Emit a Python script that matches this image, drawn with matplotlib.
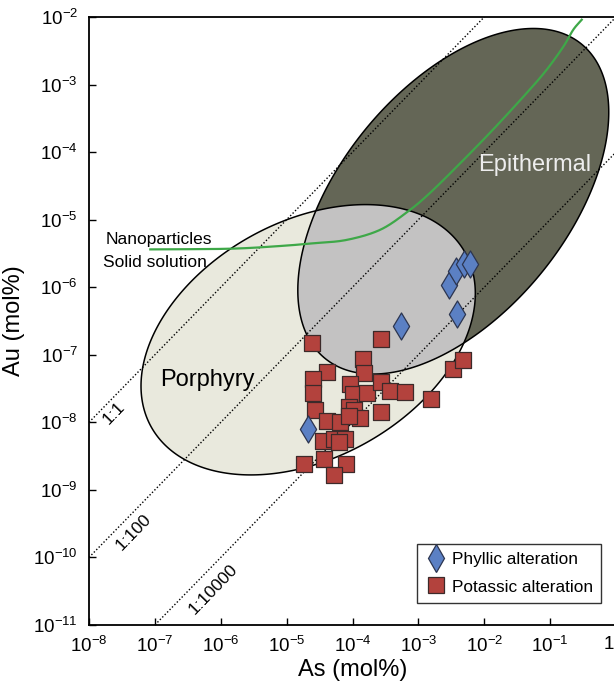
import numpy as np
import matplotlib
matplotlib.use('Agg')
import matplotlib.pyplot as plt
from matplotlib.patches import Polygon
from matplotlib.lines import Line2D
from matplotlib.transforms import ScaledTranslation

plt.rcParams['font.family'] = ['Liberation Sans', 'DejaVu Sans']
plt.rcParams['mathtext.default'] = 'regular'

# sample data, log10 of mol%
phyllic_log_as = [-4.67, -3.26, -2.53, -2.43, -2.30, -2.21, -2.42]
phyllic_log_au = [-8.10, -6.58, -5.96, -5.76, -5.65, -5.65, -6.39]

potassic_log_as = [-4.62, -3.56, -3.84, -3.82, -4.38, -4.60, -4.60, -4.04,
                   -3.99, -3.78, -3.56, -3.43, -3.20, -2.81, -2.48, -2.33,
                   -4.57, -4.06, -3.98, -3.89, -3.57, -4.39, -4.19, -4.05,
                   -4.45, -4.28, -4.12, -4.21, -4.73, -4.44, -4.10, -4.28]
potassic_log_au = [-6.82, -6.77, -7.06, -7.27, -7.26, -7.36, -7.56, -7.43,
                   -7.58, -7.56, -7.40, -7.53, -7.55, -7.66, -7.21, -7.07,
                   -7.82, -7.77, -7.82, -7.94, -7.85, -7.98, -8.00, -7.90,
                   -8.28, -8.24, -8.25, -8.29, -8.61, -8.54, -8.61, -8.78]

# nanoparticle / solid solution boundary
curve_log_as = [-7.07, -5.86, -5.10, -4.60, -4.09, -3.58, -3.16, -2.83,
                -2.37, -1.87, -1.36, -1.06, -0.80, -0.65, -0.52]
curve_log_au = [-5.44, -5.43, -5.39, -5.35, -5.30, -5.15, -4.88, -4.61,
                -4.17, -3.67, -3.13, -2.79, -2.44, -2.19, -2.04]

# Au/As ratio reference lines
ratios = [1, 1e-2, 1e-4]
ratio_labels = ['1:1', '1:100', '1:10000']

# traced outlines of the two fields (log10 As, log10 Au)
porphyry_log_as = [-4.55, -5.05, -5.71, -6.16, -6.62, -6.92, -7.12, -7.19,
                   -7.15, -6.97, -6.62, -6.11, -5.51, -4.85, -4.34, -3.74,
                   -3.23, -2.72, -2.27, -2.17, -2.13, -2.17, -2.37, -2.72,
                   -3.18, -3.84]
porphyry_log_au = [-4.91, -5.03, -5.35, -5.65, -6.04, -6.49, -6.93, -7.33,
                   -7.77, -8.16, -8.51, -8.71, -8.78, -8.71, -8.58, -8.31,
                   -7.87, -7.37, -6.78, -6.44, -6.04, -5.70, -5.35, -5.05,
                   -4.86, -4.76]
epithermal_log_as = [-1.26, -0.70, -0.35, -0.17, -0.12, -0.17, -0.32, -0.90,
                     -1.61, -2.27, -2.72, -3.23, -3.74, -4.24, -4.55, -4.72,
                     -4.82, -4.75, -4.55, -4.19, -3.79, -3.18, -2.57, -1.87]
epithermal_log_au = [-2.17, -2.27, -2.54, -3.03, -3.38, -3.87, -4.41, -5.55,
                     -6.29, -6.78, -7.03, -7.23, -7.27, -7.18, -6.98, -6.63,
                     -5.89, -5.45, -4.86, -4.22, -3.62, -3.03, -2.59, -2.29]


def fit_ellipse(lx, ly, n=400):
    # least squares conic fit in log space, returned as a smooth outline
    x = np.asarray(lx, float)
    y = np.asarray(ly, float)
    mx, my = x.mean(), y.mean()
    u, v = x - mx, y - my
    M = np.column_stack([u * u, u * v, v * v, u, v])
    A, B, C, D, E = np.linalg.lstsq(M, np.ones_like(u), rcond=None)[0]
    uc, vc = np.linalg.solve([[2 * A, B], [B, 2 * C]], [-D, -E])
    F = A * uc * uc + B * uc * vc + C * vc * vc + D * uc + E * vc - 1
    w, V = np.linalg.eigh([[A, B / 2], [B / 2, C]])
    axes_len = np.sqrt(-F / w)
    t = np.linspace(0, 2 * np.pi, n)
    pts = V @ np.vstack([axes_len[0] * np.cos(t), axes_len[1] * np.sin(t)])
    return np.column_stack([10 ** (pts[0] + uc + mx), 10 ** (pts[1] + vc + my)])


def smooth_curve(lx, ly, n=24):
    # Catmull-Rom spline through the traced curve points, in log space
    P = np.column_stack([lx, ly]).astype(float)
    pts = np.vstack([2 * P[0] - P[1], P, 2 * P[-1] - P[-2]])
    t = np.linspace(0, 1, n, endpoint=False)[:, None]
    out = []
    for i in range(1, len(pts) - 2):
        p0, p1, p2, p3 = pts[i - 1:i + 3]
        out.append(0.5 * (2 * p1 + (p2 - p0) * t
                          + (2 * p0 - 5 * p1 + 4 * p2 - p3) * t ** 2
                          + (3 * p1 - p0 - 3 * p2 + p3) * t ** 3))
    out.append(pts[-2][None])
    return 10 ** np.vstack(out)


fig = plt.figure(figsize=(6.14, 6.86), dpi=100)
ax = fig.add_axes([89 / 614, 1 - 625 / 686, 527 / 614, 608 / 686])
ax.set_xscale('log')
ax.set_yscale('log')
ax.set_xlim(1e-8, 1)
ax.set_ylim(1e-11, 1e-2)

por = fit_ellipse(porphyry_log_as, porphyry_log_au)
epi = fit_ellipse(epithermal_log_as, epithermal_log_au)

ax.add_patch(Polygon(por, closed=True, facecolor='#e9e9dd', edgecolor='none', zorder=1))
p2 = Polygon(epi, closed=True, facecolor='#646656', edgecolor='none', zorder=1.1)
ax.add_patch(p2)
p3 = Polygon(por, closed=True, facecolor='#c3c2c2', edgecolor='none', zorder=1.2)
ax.add_patch(p3)
p3.set_clip_path(p2)
ax.add_patch(Polygon(por, closed=True, facecolor='none', edgecolor='black', lw=1.1, zorder=1.3))
ax.add_patch(Polygon(epi, closed=True, facecolor='none', edgecolor='black', lw=1.1, zorder=1.3))

xs = np.logspace(-8, 0, 50)
for r in ratios:
    ax.plot(xs, xs * r, ls=(0, (1, 1.5)), color='black', lw=1.0, zorder=2)

ax.text(10 ** -7.63, 10 ** -7.87, ratio_labels[0], rotation=46, fontsize=12.5,
        ha='center', va='center', zorder=2)
ax.text(10 ** -7.33, 10 ** -9.62, ratio_labels[1], rotation=46, fontsize=12.5,
        ha='center', va='center', zorder=2)
ax.text(10 ** -6.12, 10 ** -10.47, ratio_labels[2], rotation=46, fontsize=12.5,
        ha='center', va='center', zorder=2)

curve = smooth_curve(curve_log_as, curve_log_au)
ax.plot(curve[:, 0], curve[:, 1], color='#3ea848', lw=1.6, zorder=3)

ax.text(10 ** -7.75, 10 ** -5.30, 'Nanoparticles', fontsize=12.5, ha='left', va='center', zorder=3)
ax.text(10 ** -7.79, 10 ** -5.63, 'Solid solution', fontsize=12.5, ha='left', va='center', zorder=3)
ax.text(10 ** -6.21, 10 ** -7.37, 'Porphyry', fontsize=17, ha='center', va='center', zorder=3)
ax.text(10 ** -1.24, 10 ** -4.19, 'Epithermal', fontsize=17, ha='center', va='center',
        color='#ededed', zorder=3)

ax.scatter(10 ** np.array(potassic_log_as), 10 ** np.array(potassic_log_au),
           marker='s', s=125, facecolor='#b3423d', edgecolor='#3c2a2a', lw=0.9, zorder=4)
ax.scatter(10 ** np.array(phyllic_log_as), 10 ** np.array(phyllic_log_au),
           marker='d', s=190, facecolor='#5b80c4', edgecolor='#2c3550', lw=0.9, zorder=5)

handles = [
    Line2D([], [], ls='none', marker='d', ms=14, mfc='#5b80c4', mec='#2c3550', mew=0.9,
           label='Phyllic alteration'),
    Line2D([], [], ls='none', marker='s', ms=11, mfc='#b3423d', mec='#3c2a2a', mew=0.9,
           label='Potassic alteration'),
]
leg = ax.legend(handles=handles, loc='lower right', bbox_to_anchor=(0.972, 0.036),
                fontsize=12.4, frameon=True, fancybox=False, edgecolor='black',
                handletextpad=0.3, borderpad=0.5, labelspacing=0.7, handlelength=1.2,
                borderaxespad=0)
leg.get_frame().set_linewidth(1.0)
leg.set_zorder(6)

xt = 10.0 ** np.arange(-8, 1)
ax.set_xticks(xt)
ax.set_xticklabels(['$10^{%d}$' % e for e in range(-8, 0)] + ['1'])
yt = 10.0 ** np.arange(-11, -1)
ax.set_yticks(yt)
ax.set_yticklabels(['$10^{%d}$' % e for e in range(-11, -1)])
ax.minorticks_off()
ax.tick_params(direction='in', length=5, width=1, labelsize=13.5, pad=8)
for s in ax.spines.values():
    s.set_linewidth(1.3)

# last x label sits at the cropped right edge, nudge it in
last = ax.get_xticklabels()[-1]
last.set_transform(last.get_transform() + ScaledTranslation(-5 / 72, 0, fig.dpi_scale_trans))

ax.set_xlabel('As (mol%)', fontsize=17, labelpad=2)
ax.set_ylabel('Au (mol%)', fontsize=17, labelpad=6)

fig.savefig('out.png', dpi=100)
